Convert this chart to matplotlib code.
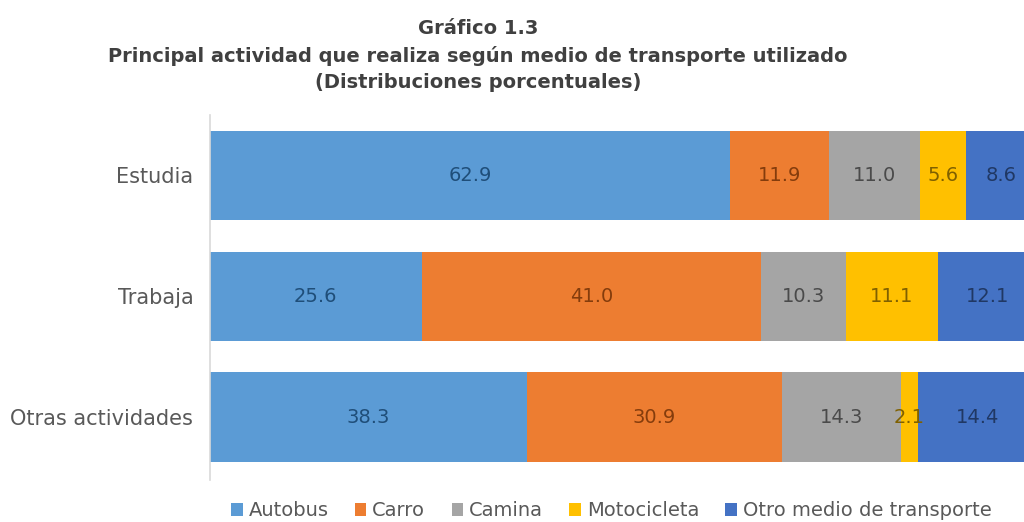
import matplotlib.pyplot as plt
import numpy as np

categories = ["Estudia", "Trabaja", "Otras actividades"]
series = ["Autobus", "Carro", "Camina", "Motocicleta", "Otro medio de transporte"]
autobus = [62.9, 25.6, 38.3]
carro = [11.9, 41.0, 30.9]
camina = [11.0, 10.3, 14.3]
moto = [5.6, 11.1, 2.1]
otro = [8.6, 12.1, 14.4]
values = [autobus, carro, camina, moto, otro]

colors = ["#5B9BD5", "#ED7D31", "#A5A5A5", "#FFC000", "#4472C4"]
text_colors = ["#1F4E79", "#843C0C", "#4A4A4A", "#7F6000", "#203864"]

fig = plt.figure(figsize=(10.24, 5.22), dpi=100)
ax = fig.add_axes([210 / 1024, 1 - 480 / 522, 827 / 1024, 365 / 522])

y = np.arange(len(categories))
left = np.zeros(len(categories))
for name, vals, c, tc in zip(series, values, colors, text_colors):
    vals = np.array(vals)
    bars = ax.barh(y, vals, left=left, height=0.74, color=c, label=name, linewidth=0)
    for b, v in zip(bars, vals):
        ax.text(b.get_x() + b.get_width() / 2, b.get_y() + b.get_height() / 2,
                f"{v:.1f}", ha="center", va="center", fontsize=14, color=tc)
    left += vals

ax.set_xlim(0, 100)
ax.set_ylim(2.52, -0.5)
ax.set_yticks(y)
ax.set_yticklabels(categories, fontsize=15, color="#595959")
ax.set_xticks([])
ax.tick_params(axis="y", length=0, pad=12)
for s in ["top", "right", "bottom"]:
    ax.spines[s].set_visible(False)
ax.spines["left"].set_color("#D9D9D9")
ax.spines["left"].set_linewidth(1.2)

fig.text(0.467, 1 - 28 / 522, "Gráfico 1.3", ha="center", va="center",
         fontsize=14, fontweight="bold", color="#404040")
fig.text(0.467, 1 - 56 / 522, "Principal actividad que realiza según medio de transporte utilizado",
         ha="center", va="center", fontsize=14, fontweight="bold", color="#404040")
fig.text(0.467, 1 - 83 / 522, "(Distribuciones porcentuales)", ha="center", va="center",
         fontsize=14, fontweight="bold", color="#404040")

handles, labels = ax.get_legend_handles_labels()
fig.legend(handles, labels, loc="center", bbox_to_anchor=(0.597, 1 - 511 / 522), ncol=5,
           frameon=False, fontsize=14, handlelength=0.6, handleheight=0.6,
           handletextpad=0.3, columnspacing=1.35, labelcolor="#595959")

fig.savefig("out.png", dpi=100)
